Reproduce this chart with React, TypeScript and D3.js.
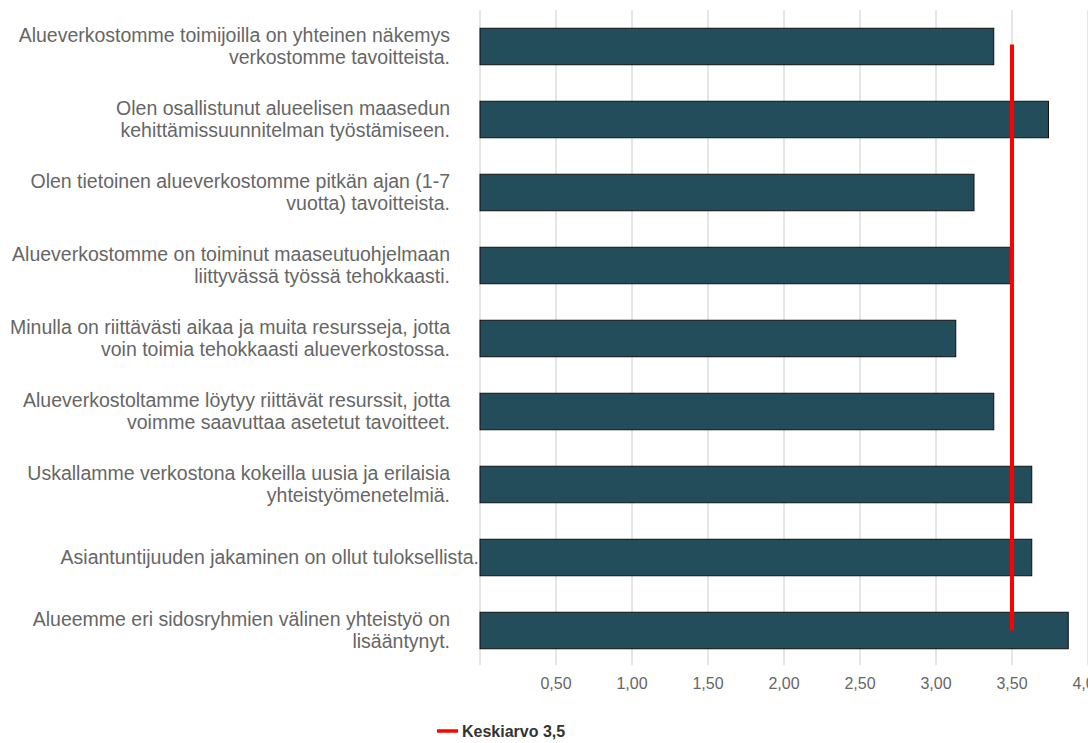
import React from "react";
import * as d3 from "d3";

const categories: string[][] = [
  ["Alueverkostomme toimijoilla on yhteinen näkemys", "verkostomme tavoitteista."],
  ["Olen osallistunut alueelisen maasedun", "kehittämissuunnitelman työstämiseen."],
  ["Olen tietoinen alueverkostomme pitkän ajan (1-7", "vuotta) tavoitteista."],
  ["Alueverkostomme on toiminut maaseutuohjelmaan", "liittyvässä työssä tehokkaasti."],
  ["Minulla on riittävästi aikaa ja muita resursseja, jotta", "voin toimia tehokkaasti alueverkostossa."],
  ["Alueverkostoltamme löytyy riittävät resurssit, jotta", "voimme saavuttaa asetetut tavoitteet."],
  ["Uskallamme verkostona kokeilla uusia ja erilaisia", "yhteistyömenetelmiä."],
  ["Asiantuntijuuden jakaminen on ollut tuloksellista."],
  ["Alueemme eri sidosryhmien välinen yhteistyö on", "lisääntynyt."],
];
const values: number[] = [3.38, 3.74, 3.25, 3.49, 3.13, 3.38, 3.63, 3.63, 3.87];
const meanValue = 3.5;
const ticks: number[] = [0.5, 1.0, 1.5, 2.0, 2.5, 3.0, 3.5, 4.0];
const legendLabel = "Keskiarvo 3,5";

export default function App() {
  const W = 1088, H = 743;
  const x = d3.scaleLinear().domain([0, 4]).range([480, 1088]);
  const y = d3.scaleBand<number>().domain(d3.range(values.length)).range([10, 667]).paddingInner(0.5).paddingOuter(0.25);
  const fmt = (v: number) => v.toFixed(2).replace(".", ",");
  const font = "Arial, 'Liberation Sans', sans-serif";
  const cy = (i: number) => (y(i) as number) + y.bandwidth() / 2;
  return (
    <svg width={W} height={H} style={{ position: "absolute", left: 0, top: 0 }} fontFamily={font}>
      <rect width={W} height={H} fill="#fff" />
      {ticks.map((t) => (
        <line key={t} x1={x(t)} x2={x(t)} y1={10} y2={665} stroke="#cccccc" strokeWidth={1} />
      ))}
      <line x1={x(0)} x2={x(0)} y1={10} y2={665} stroke="#cccccc" strokeWidth={1} />
      {categories.map((lines, i) => {
        const c = cy(i);
        const lh = 22;
        const ax = lines.length === 1 ? 479 : 450;
        return (
          <text key={i} x={ax} textAnchor="end" fontSize={19.5} fill="#666666">
            {lines.map((l, j) => (
              <tspan key={j} x={ax} y={c + (j - (lines.length - 1) / 2) * lh} dy="0.35em">{l}</tspan>
            ))}
          </text>
        );
      })}
      {values.map((v, i) => (
        <rect key={i} x={x(0)} y={y(i)} width={x(v) - x(0)} height={y.bandwidth()} fill="#234d5b" stroke="#111" strokeWidth={1} />
      ))}
      <line x1={x(meanValue)} x2={x(meanValue)} y1={cy(0) - 2} y2={cy(values.length - 1)} stroke="#ff0000" strokeWidth={4} />
      {ticks.map((t) => (
        <text key={t} x={x(t)} y={683} dy="0.35em" textAnchor="middle" fontSize={16} fill="#666666">{fmt(t)}</text>
      ))}
      <line x1={437} x2={458} y1={731} y2={731} stroke="#ff0000" strokeWidth={3.5} />
      <text x={462} y={731} dy="0.35em" fontSize={16} fontWeight="bold" fill="#333333">{legendLabel}</text>
    </svg>
  );
}
